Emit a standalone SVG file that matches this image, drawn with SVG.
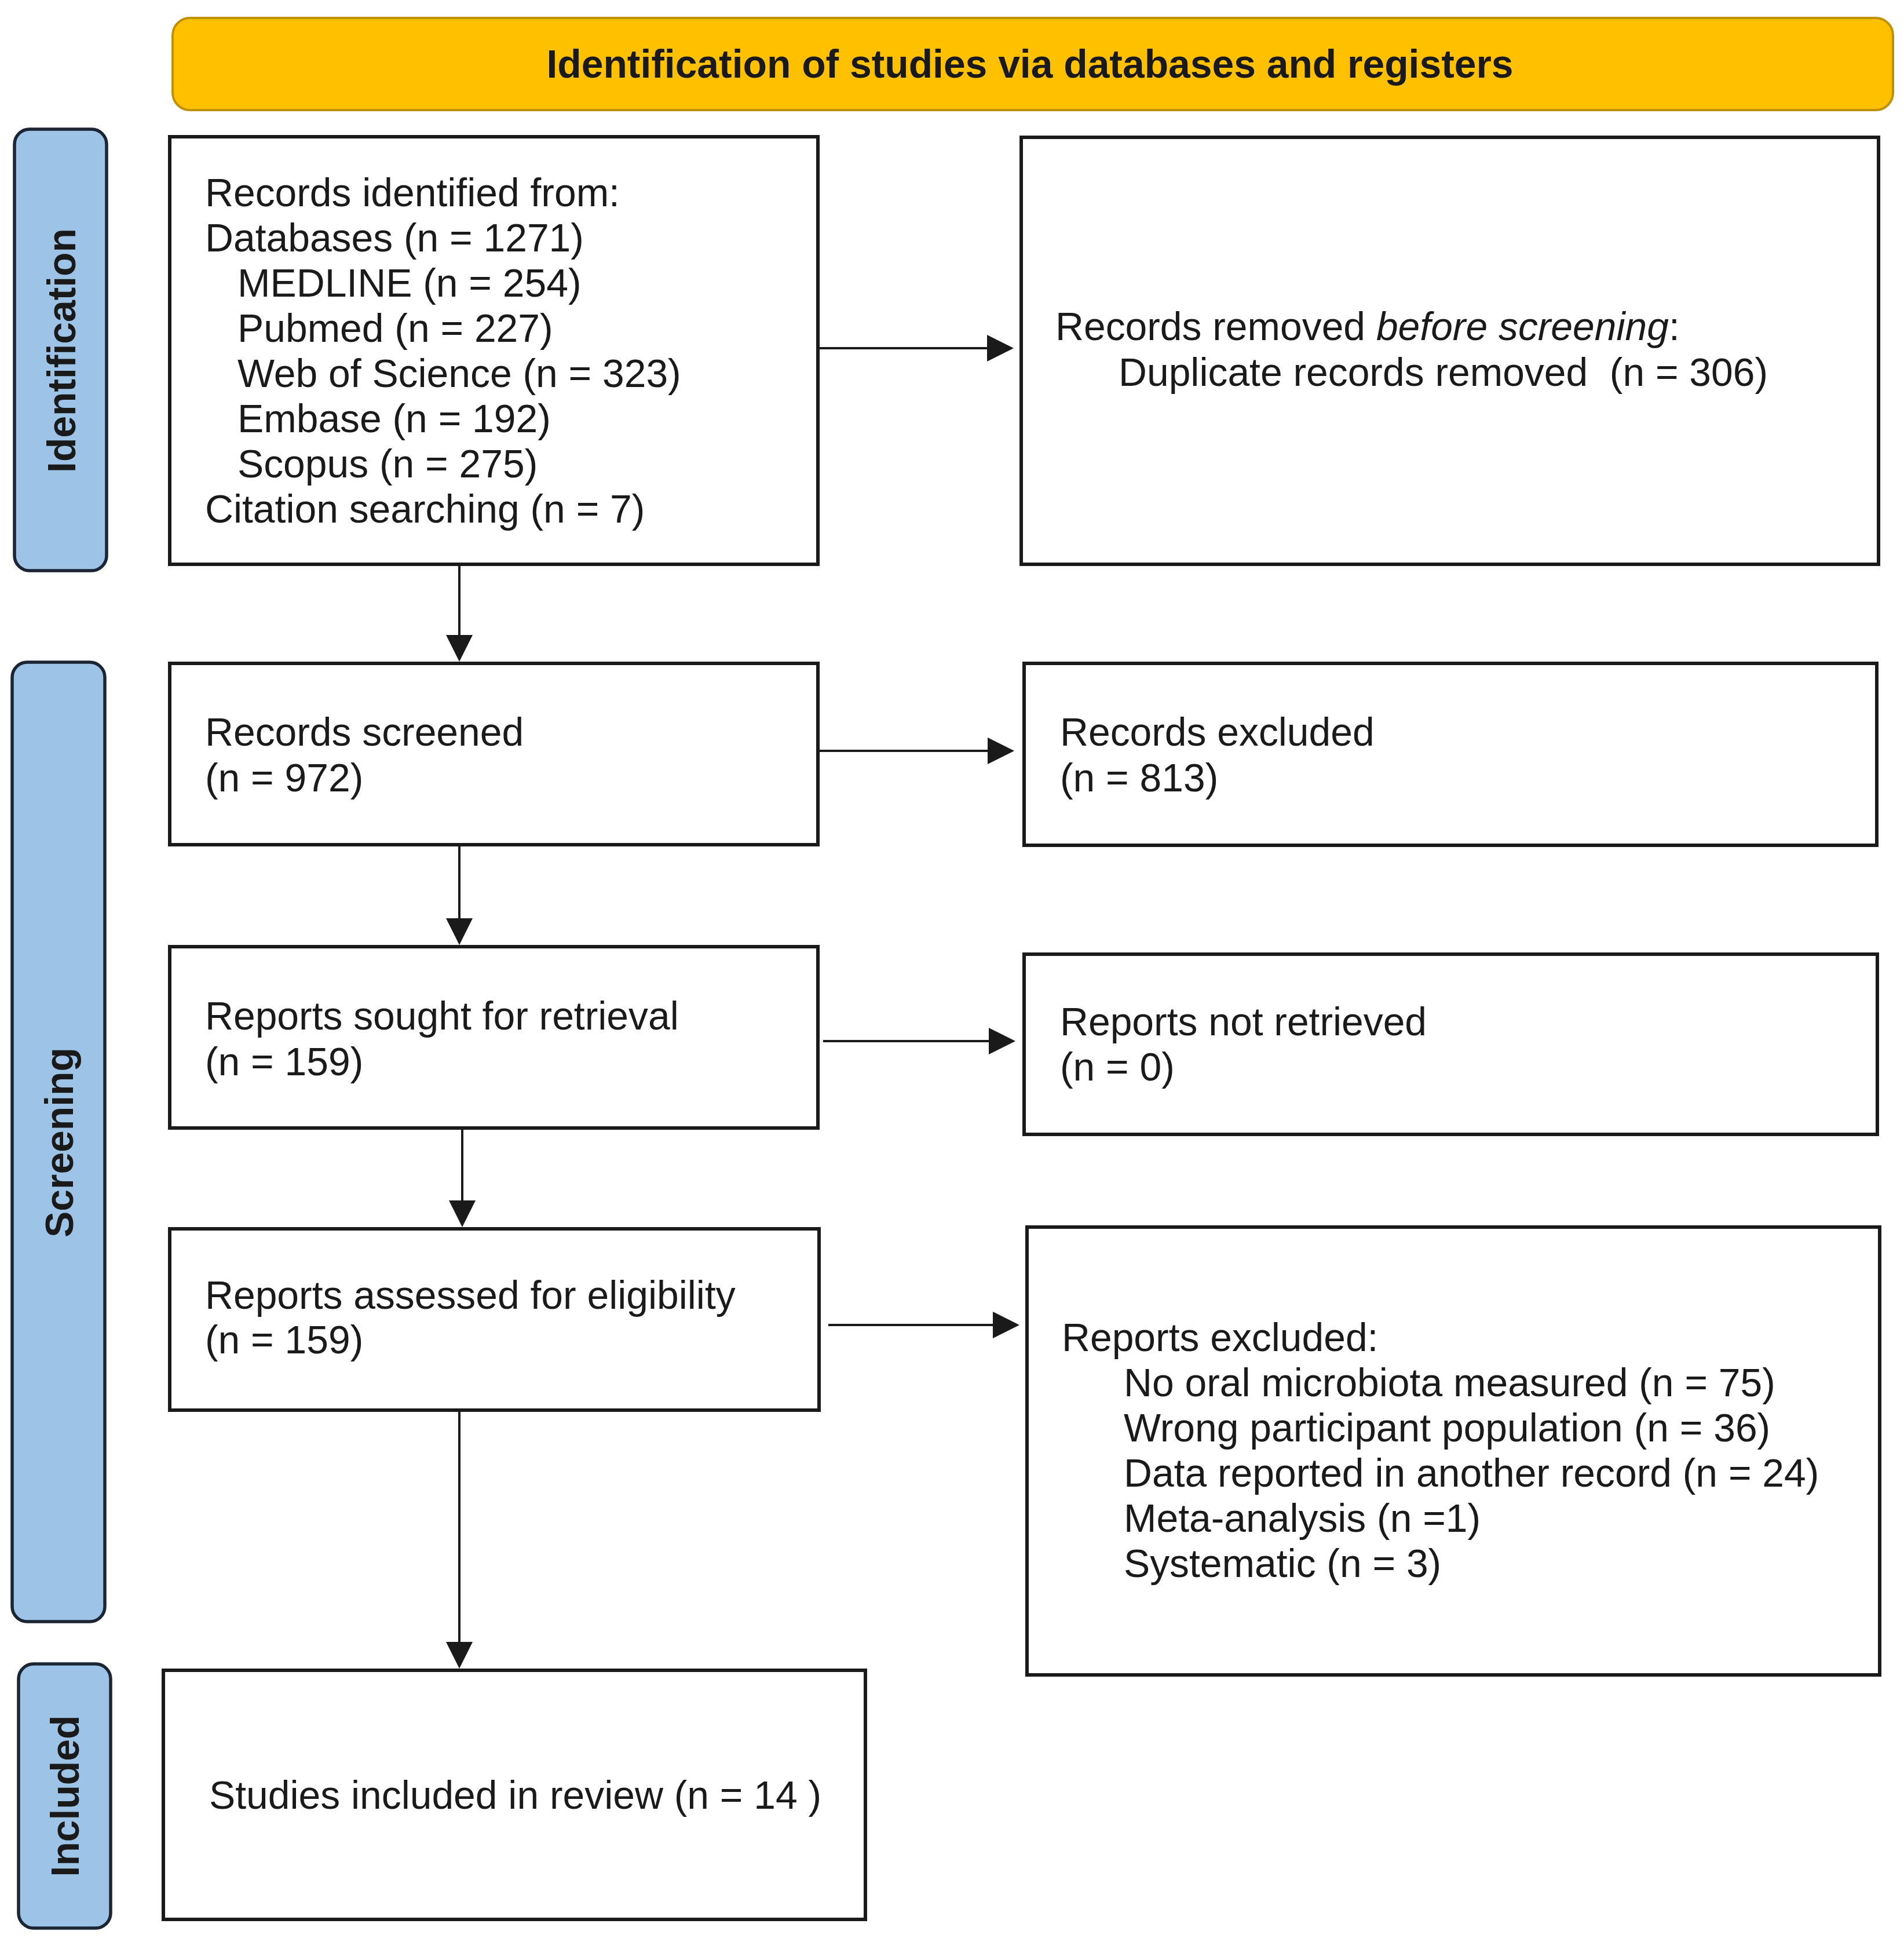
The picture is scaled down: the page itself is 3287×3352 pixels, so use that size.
<svg xmlns="http://www.w3.org/2000/svg" width="3287" height="3352" viewBox="0 0 3287 3352">
<style>
  .box { fill: #ffffff; stroke: #1a1a1a; stroke-width: 6; }
  .side { fill: #9DC3E6; stroke: #1b2533; stroke-width: 5.5; }
  .banner { fill: #FFC000; stroke: #BF9000; stroke-width: 4; }
  .t { font-family: "Liberation Sans", Arial, sans-serif; font-size: 67.8px; fill: #1a1a1a; white-space: pre; }
  .b { font-family: "Liberation Sans", Arial, sans-serif; font-size: 67.8px; font-weight: bold; fill: #1a1a1a; }
  .c { stroke: #1a1a1a; stroke-width: 4; fill: none; }
</style>
<defs>
  <marker id="ah" markerUnits="userSpaceOnUse" markerWidth="48" markerHeight="48" refX="35" refY="23" orient="auto">
    <path d="M0,0 L46,23 L0,46 Z" fill="#1a1a1a"/>
  </marker>
</defs>
<rect width="3287" height="3352" fill="#ffffff"/>

<g id="banner">
  <rect class="banner" x="298" y="31" width="2970" height="159" rx="30" ry="30"/>
  <text class="b" x="1778" y="134" text-anchor="middle">Identification of studies via databases and registers</text>
</g>

<g id="phase-identification">
  <rect class="side" x="25" y="223" width="159" height="762" rx="26" ry="26"/>
  <text class="b" transform="translate(130,605) rotate(-90)" text-anchor="middle">Identification</text>
</g>
<g id="phase-screening">
  <rect class="side" x="21" y="1143" width="160" height="1656" rx="26" ry="26"/>
  <text class="b" transform="translate(126,1972) rotate(-90)" text-anchor="middle">Screening</text>
</g>
<g id="phase-included">
  <rect class="side" x="32" y="2872" width="159" height="456" rx="26" ry="26"/>
  <text class="b" transform="translate(136,3100) rotate(-90)" text-anchor="middle">Included</text>
</g>

<g id="records-identified">
  <rect class="box" x="293" y="236" width="1119" height="738"/>
  <text class="t" x="354" y="356">Records identified from:</text>
  <text class="t" x="354" y="434">Databases (n = 1271)</text>
  <text class="t" x="410" y="512">MEDLINE (n = 254)</text>
  <text class="t" x="410" y="590">Pubmed (n = 227)</text>
  <text class="t" x="410" y="668">Web of Science (n = 323)</text>
  <text class="t" x="410" y="746">Embase (n = 192)</text>
  <text class="t" x="410" y="824">Scopus (n = 275)</text>
  <text class="t" x="354" y="902">Citation searching (n = 7)</text>
</g>

<g id="records-removed">
  <rect class="box" x="1763" y="237" width="1480" height="737"/>
  <text class="t" x="1822" y="587">Records removed <tspan font-style="italic">before screening</tspan>:</text>
  <text class="t" x="1931" y="666">Duplicate records removed  (n = 306)</text>
</g>

<g id="records-screened">
  <rect class="box" x="293" y="1145" width="1119" height="313"/>
  <text class="t" x="354" y="1287">Records screened</text>
  <text class="t" x="354" y="1366">(n = 972)</text>
</g>

<g id="records-excluded">
  <rect class="box" x="1768" y="1145" width="1472" height="314"/>
  <text class="t" x="1830" y="1287">Records excluded</text>
  <text class="t" x="1830" y="1366">(n = 813)</text>
</g>

<g id="reports-sought">
  <rect class="box" x="293" y="1634" width="1119" height="313"/>
  <text class="t" x="354" y="1777">Reports sought for retrieval</text>
  <text class="t" x="354" y="1856">(n = 159)</text>
</g>

<g id="reports-not-retrieved">
  <rect class="box" x="1768" y="1647" width="1473" height="311"/>
  <text class="t" x="1830" y="1787">Reports not retrieved</text>
  <text class="t" x="1830" y="1865">(n = 0)</text>
</g>

<g id="reports-assessed">
  <rect class="box" x="293" y="2121" width="1121" height="313"/>
  <text class="t" x="354" y="2259">Reports assessed for eligibility</text>
  <text class="t" x="354" y="2336">(n = 159)</text>
</g>

<g id="reports-excluded">
  <rect class="box" x="1773" y="2118" width="1472" height="773"/>
  <text class="t" x="1833" y="2332">Reports excluded:</text>
  <text class="t" x="1940" y="2410">No oral microbiota measured (n = 75)</text>
  <text class="t" x="1940" y="2488">Wrong participant population (n = 36)</text>
  <text class="t" x="1940" y="2566">Data reported in another record (n = 24)</text>
  <text class="t" x="1940" y="2644">Meta-analysis (n =1)</text>
  <text class="t" x="1940" y="2722">Systematic (n = 3)</text>
</g>

<g id="studies-included">
  <rect class="box" x="282" y="2883" width="1212" height="430"/>
  <text class="t" x="361" y="3122">Studies included in review (n = 14 )</text>
</g>

<g id="connectors">
  <line class="c" x1="793" y1="977" x2="793" y2="1131" marker-end="url(#ah)"/>
  <line class="c" x1="793" y1="1461" x2="793" y2="1620" marker-end="url(#ah)"/>
  <line class="c" x1="798" y1="1950" x2="798" y2="2107" marker-end="url(#ah)"/>
  <line class="c" x1="793" y1="2437" x2="793" y2="2869" marker-end="url(#ah)"/>
  <line class="c" x1="1415" y1="601" x2="1739" y2="601" marker-end="url(#ah)"/>
  <line class="c" x1="1415" y1="1296" x2="1740" y2="1296" marker-end="url(#ah)"/>
  <line class="c" x1="1421" y1="1797" x2="1742" y2="1797" marker-end="url(#ah)"/>
  <line class="c" x1="1430" y1="2287" x2="1749" y2="2287" marker-end="url(#ah)"/>
</g>
</svg>
